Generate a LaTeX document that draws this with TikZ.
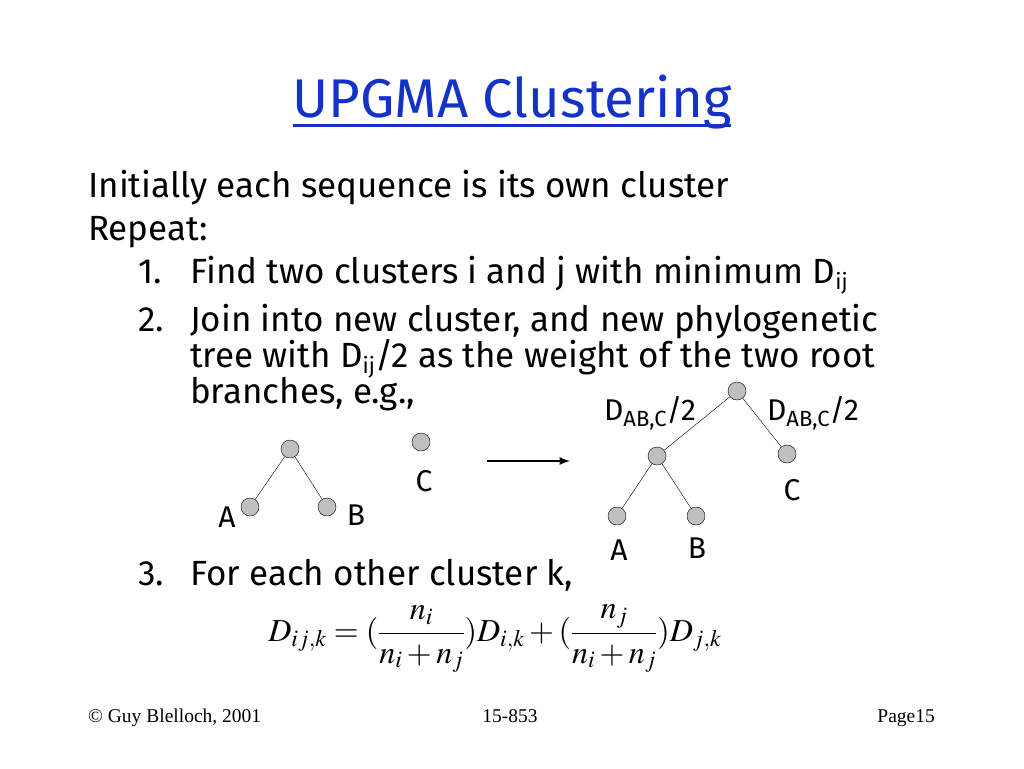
\documentclass[tikz,border=0pt]{standalone}
\usepackage{mathptmx}
\usepackage{fontspec}
\setmainfont{Fira Sans}
\newfontfamily\footfont{Liberation Serif}
\definecolor{titleblue}{RGB}{20,50,200}
\newcommand{\lowtext}[1]{\raisebox{-0.35ex}{\fontsize{22}{22}\selectfont #1}}
\begin{document}
\begin{tikzpicture}
  [x=1pt,y=1pt,
   every node/.style={inner sep=0pt},
   body/.style={anchor=base west,font=\fontsize{35}{40}\selectfont},
   leaf/.style={circle,draw=black,fill=gray!50,minimum size=18pt},
   label/.style={font=\fontsize{30}{36}\selectfont},
   foot/.style={anchor=base,font=\footfont\fontsize{19.5}{22}\selectfont}]

  \useasboundingbox[fill=white] (0,0) rectangle (1024,-768);

  % title
  \node (title) [anchor=base,text=titleblue,font=\fontsize{54.5}{60}\selectfont] at (512,-117) {UPGMA Clustering};
  \draw [titleblue,line width=3pt] (title.base west) ++(0,-8) coordinate (ulA) -- (ulA -| title.base east);

  % text
  \node (init) [body] at (88,-197) {Initially each sequence is its own cluster};
  \node (rep) [body] at (88,-240) {Repeat:};
  \node (n1) [body] at (138,-283) {1.};
  \node (s1) [body] at (190,-283) {Find two clusters i and j with minimum D\lowtext{ij}};
  \node (n2) [body] at (138,-331) {2.};
  \node (s2a) [body] at (190,-331) {Join into new cluster, and new phylogenetic};
  \node (s2b) [body] at (190,-367) {tree with D\lowtext{ij}/2 as the weight of the two root};
  \node (s2c) [body] at (190,-403) {branches, e.g.,};
  \node (n3) [body] at (138,-585) {3.};
  \node (s3) [body] at (190,-585) {For each other cluster k,};

  % before
  \node (rootL) [leaf] at (290,-449) {};
  \node (aL) [leaf] at (250,-507) {};
  \node (bL) [leaf] at (327,-507) {};
  \node (cL) [leaf] at (421,-442) {};
  \draw (rootL) -- (aL);
  \draw (rootL) -- (bL);
  \node (laL) [label] at (227,-517) {A};
  \node (lbL) [label] at (356,-515) {B};
  \node (lcL) [label] at (424,-481) {C};

  \coordinate (arrA) at (487,-461);
  \coordinate (arrB) at (570,-461);
  \draw [-latex,line width=2.5pt] (arrA) -- (arrB);

  % after
  \node (rootR) [leaf] at (737,-391) {};
  \node (midR) [leaf] at (657,-456) {};
  \node (cR) [leaf] at (787,-454) {};
  \node (aR) [leaf] at (617,-516) {};
  \node (bR) [leaf] at (696,-516) {};
  \draw (rootR) -- (midR);
  \draw (rootR) -- (cR);
  \draw (midR) -- (aR);
  \draw (midR) -- (bR);
  \node (laR) [label] at (619,-550) {A};
  \node (lbR) [label] at (697,-548) {B};
  \node (lcR) [label] at (792,-490) {C};
  \node (wl) [label] at (650,-413) {D\lowtext{AB,C}/2};
  \node (wr) [label] at (813,-413) {D\lowtext{AB,C}/2};

  % formula
  \node (eq) [font=\fontsize{32}{38}\selectfont] at (495,-639)
    {$\displaystyle D_{ij,k}=(\frac{n_i}{n_i+n_j})D_{i,k}+(\frac{n_j}{n_i+n_j})D_{j,k}$};

  % footer
  \node (f1) [foot,anchor=base west] at (88,-722) {© Guy Blelloch, 2001};
  \node (f2) [foot] at (510,-722) {15-853};
  \node (f3) [foot,anchor=base east] at (935,-722) {Page15};
\end{tikzpicture}
\end{document}
